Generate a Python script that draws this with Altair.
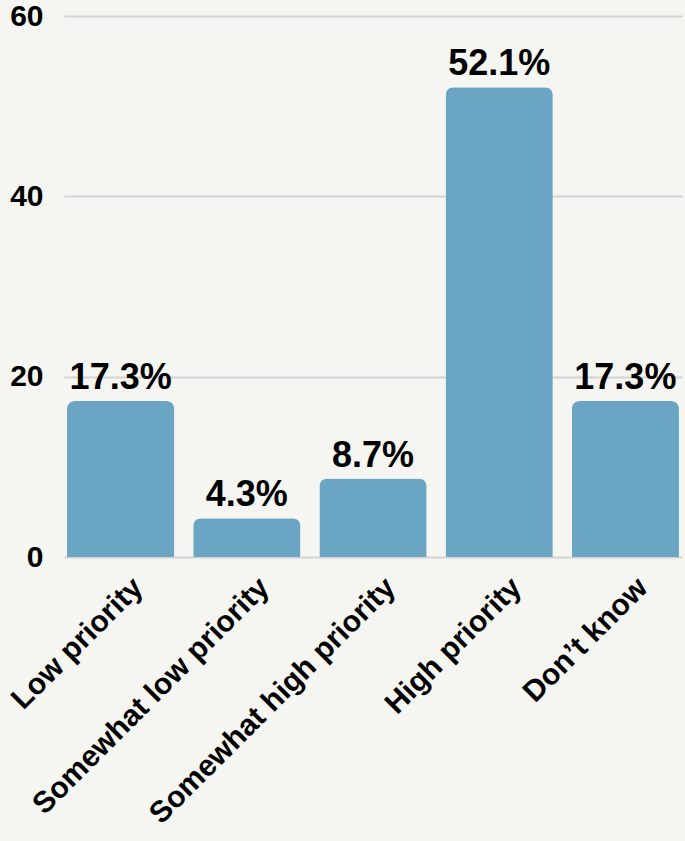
import altair as alt
import pandas as pd

categories = ["Low priority", "Somewhat low priority", "Somewhat high priority", "High priority", "Don’t know"]
values = [17.3, 4.3, 8.7, 52.1, 17.3]
labels = ["17.3%", "4.3%", "8.7%", "52.1%", "17.3%"]
y_ticks = [0, 20, 40, 60]

df = pd.DataFrame({"category": categories, "value": values, "label": labels})

FONT = "Liberation Sans"

x = alt.X(
    "category:N",
    sort=categories,
    title=None,
    scale=alt.Scale(paddingInner=0.15, paddingOuter=0.024),
    axis=alt.Axis(
        labelAngle=-45,
        labelAlign="right",
        labelBaseline="top",
        labelFont=FONT,
        labelFontSize=30,
        labelFontWeight="bold",
        labelColor="black",
        labelPadding=15,
        labelOffset=7,
        labelLimit=600,
        labelOverlap=False,
        domain=False,
        ticks=False,
        grid=False,
    ),
)

y = alt.Y(
    "value:Q",
    title=None,
    scale=alt.Scale(domain=[0, 60], nice=False),
    axis=alt.Axis(
        values=y_ticks,
        labelFont=FONT,
        labelFontSize=30,
        labelFontWeight="bold",
        labelColor="black",
        labelPadding=21,
        domain=False,
        ticks=False,
        grid=True,
        gridColor="#d4d4d4",
        gridWidth=2,
    ),
)

base = alt.Chart(df).encode(x=x, y=y)

bars = base.mark_bar(color="#6aa5c4", cornerRadiusTopLeft=8, cornerRadiusTopRight=8)

text = base.mark_text(
    dy=-12,
    baseline="alphabetic",
    align="center",
    font=FONT,
    fontSize=36,
    fontWeight="bold",
    color="black",
).encode(text="label:N")

chart = (
    (bars + text)
    .properties(
        width=618,
        height=541,
        background="#f5f6f1",
        autosize=alt.AutoSizeParams(type="none"),
        padding={"left": 64, "top": 16, "right": 3, "bottom": 284},
    )
    .configure_view(stroke=None)
)

chart.save("out.html", embed_options={"renderer": "svg", "actions": False})
